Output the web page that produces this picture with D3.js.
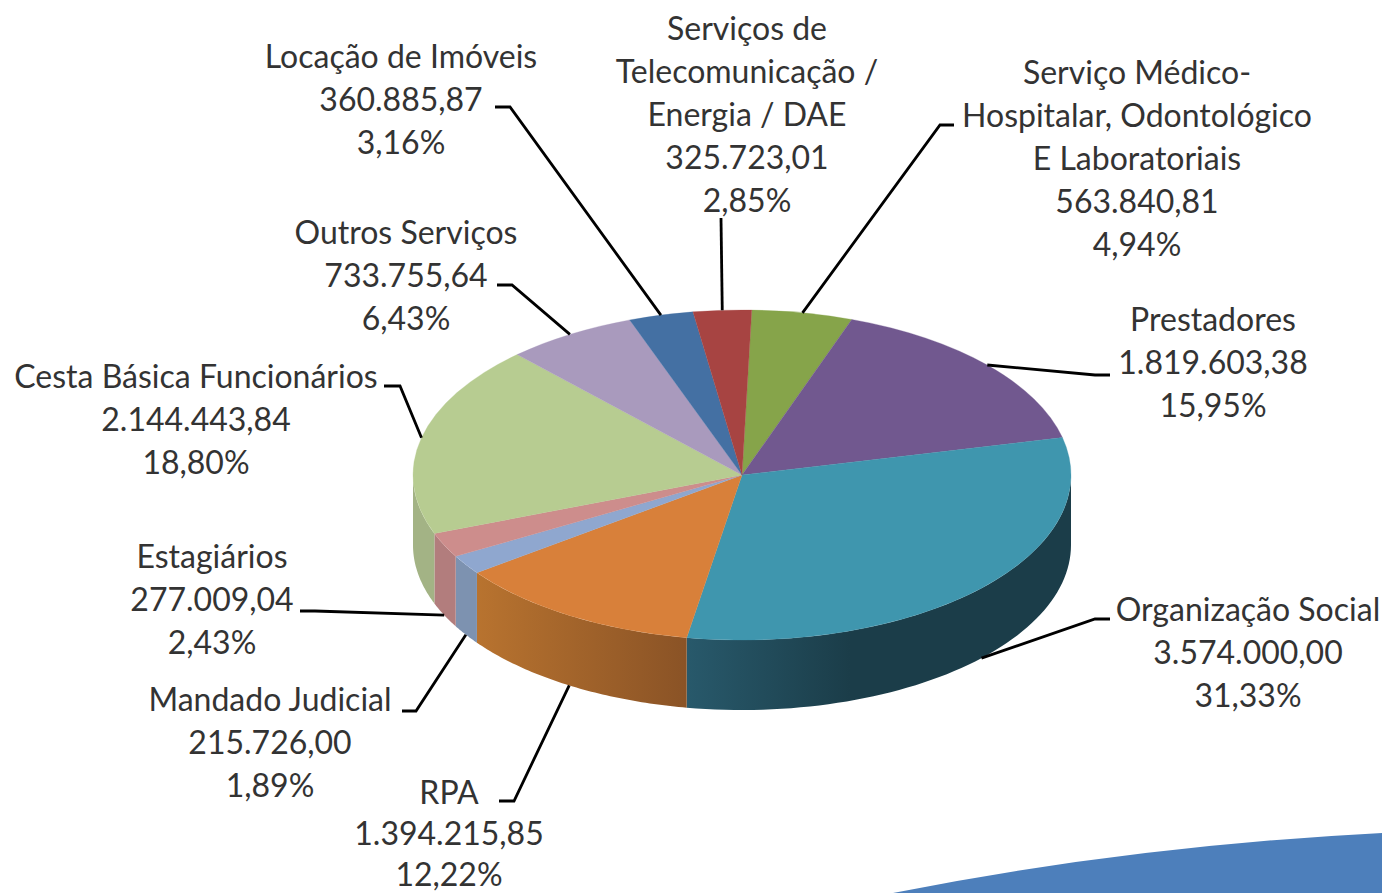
<!DOCTYPE html>
<html><head><meta charset="utf-8">
<script src="https://cdn.jsdelivr.net/npm/d3@7/dist/d3.min.js"></script>
<style>html,body{margin:0;padding:0;background:#fff;overflow:hidden}svg{display:block}text{font-family:Lato,sans-serif;fill:#333}</style>
</head><body><svg id="c" width="1382" height="893"></svg>
<script>
// data (clockwise from the top of the pie)
const categories = [
  ["Serviço Médico-","Hospitalar, Odontológico","E Laboratoriais"],
  ["Prestadores"],
  ["Organização Social"],
  ["RPA"],
  ["Mandado Judicial"],
  ["Estagiários"],
  ["Cesta Básica Funcionários"],
  ["Outros Serviços"],
  ["Locação de Imóveis"],
  ["Serviços de","Telecomunicação /","Energia / DAE"]
];
const amounts = [563840.81,1819603.38,3574000.00,1394215.85,215726.00,277009.04,2144443.84,733755.64,360885.87,325723.01];
const percents = [4.94,15.95,31.33,12.22,1.89,2.43,18.80,6.43,3.16,2.85];

// style and layout
const topColors = ["#86a44a","#71588f","#3f96ae","#d8803a","#8fa7cf","#cd8d8c","#b7cc91","#a99abd","#4470a3","#a74442"];
const wallStops = [null,null,["#28596b","#1b3d49"],["#b8732f","#8a5326"],["#7d92b0","#7d92b0"],["#b27d7d","#b27d7d"],["#a3b385","#a3b385"],null,null,null];
const labelLayout = [ // centre x, first baseline y, elbow end x/y, elbow x, optional line height
  {x:1137,y:84,lx:954,ly:125,ex:940},
  {x:1213,y:331,lx:1110,ly:375,ex:1095},
  {x:1248,y:621,lx:1110,ly:619,ex:1095},
  {x:449,y:804,lx:499,ly:801,ex:514,lh:41},
  {x:270,y:711,lx:402,ly:711,ex:416},
  {x:212,y:568,lx:300,ly:611,ex:315},
  {x:196,y:388,lx:384,ly:386,ex:400},
  {x:406,y:244,lx:497,ly:285,ex:512},
  {x:401,y:68,lx:495,ly:107,ex:510},
  {x:747,y:40,lx:721,ly:218,ex:721}
];
const cx=742, cy=475, rx=329, ry=165, depth=70, lineH=43, fontSize=32;
const rotation = 1.7*Math.PI/180;

const svg=d3.select("#c");
const defs=svg.append("defs");

// decorative swoosh
svg.append("path").attr("fill","#4d7fbb").attr("d",(()=>{const p=d3.path();p.moveTo(893,893);p.quadraticCurveTo(1130,846,1382,833);p.lineTo(1382,893);p.closePath();return p;})());

const pie=d3.pie().sort(null).value(d=>d).startAngle(rotation).endAngle(rotation+2*Math.PI);
const arcs=pie(amounts);
const px=a=>cx+rx*Math.sin(a), py=a=>cy-ry*Math.cos(a);

// walls: front half of the ellipse
const wallArea=d3.area().x(a=>px(a)).y0(a=>py(a)).y1(a=>py(a)+depth);
const lo=Math.PI/2, hi=3*Math.PI/2;
arcs.forEach((d,i)=>{
  const a0=Math.max(d.startAngle,lo), a1=Math.min(d.endAngle,hi);
  if(a1<=a0||!wallStops[i])return;
  const id="w"+i;
  const g=defs.append("linearGradient").attr("id",id).attr("gradientUnits","userSpaceOnUse")
    .attr("x1",px(a1)).attr("x2",i===2?850:px(a0)).attr("y1",0).attr("y2",0);
  g.append("stop").attr("offset",0).attr("stop-color",wallStops[i][0]);
  g.append("stop").attr("offset",1).attr("stop-color",wallStops[i][1]);
  const n=60, angles=d3.range(n+1).map(k=>a0+(a1-a0)*k/n);
  svg.append("path").attr("d",wallArea(angles)).attr("fill",`url(#${id})`);
});

// top face
const arc=d3.arc().innerRadius(0).outerRadius(rx);
const topFace=svg.append("g").attr("transform",`translate(${cx},${cy}) scale(1,${ry/rx})`);
topFace.selectAll("path").data(arcs).join("path").attr("d",arc)
  .attr("fill",(d,i)=>topColors[i]).attr("stroke",(d,i)=>topColors[i]).attr("stroke-width",0.4);

// leaders, anchored on each slice's middle angle
const leader=d3.line();
arcs.forEach((d,i)=>{
  const m=(d.startAngle+d.endAngle)/2, L=labelLayout[i];
  const front=Math.cos(m)<0;
  const ax=px(m), ay=py(m)+(front?depth:0);
  const pts=L.ex===L.lx?[[L.lx,L.ly],[ax,ay]]:[[L.lx,L.ly],[L.ex,L.ly],[ax,ay]];
  svg.append("path").attr("d",leader(pts)).attr("fill","none").attr("stroke","#000").attr("stroke-width",2.8);
});

// labels
const br=d3.formatLocale({decimal:",",thousands:".",grouping:[3],currency:["",""]});
const fmtV=br.format(",.2f"), fmtP=br.format(".2f");
categories.forEach((name,i)=>{
  const L=labelLayout[i];
  const lines=[...name,fmtV(amounts[i]),fmtP(percents[i])+"%"];
  const t=svg.append("text").attr("text-anchor","middle").attr("font-size",fontSize);
  lines.forEach((s,k)=>t.append("tspan").attr("x",L.x).attr("y",L.y+k*(L.lh||lineH)).text(s));
});
</script></body></html>
